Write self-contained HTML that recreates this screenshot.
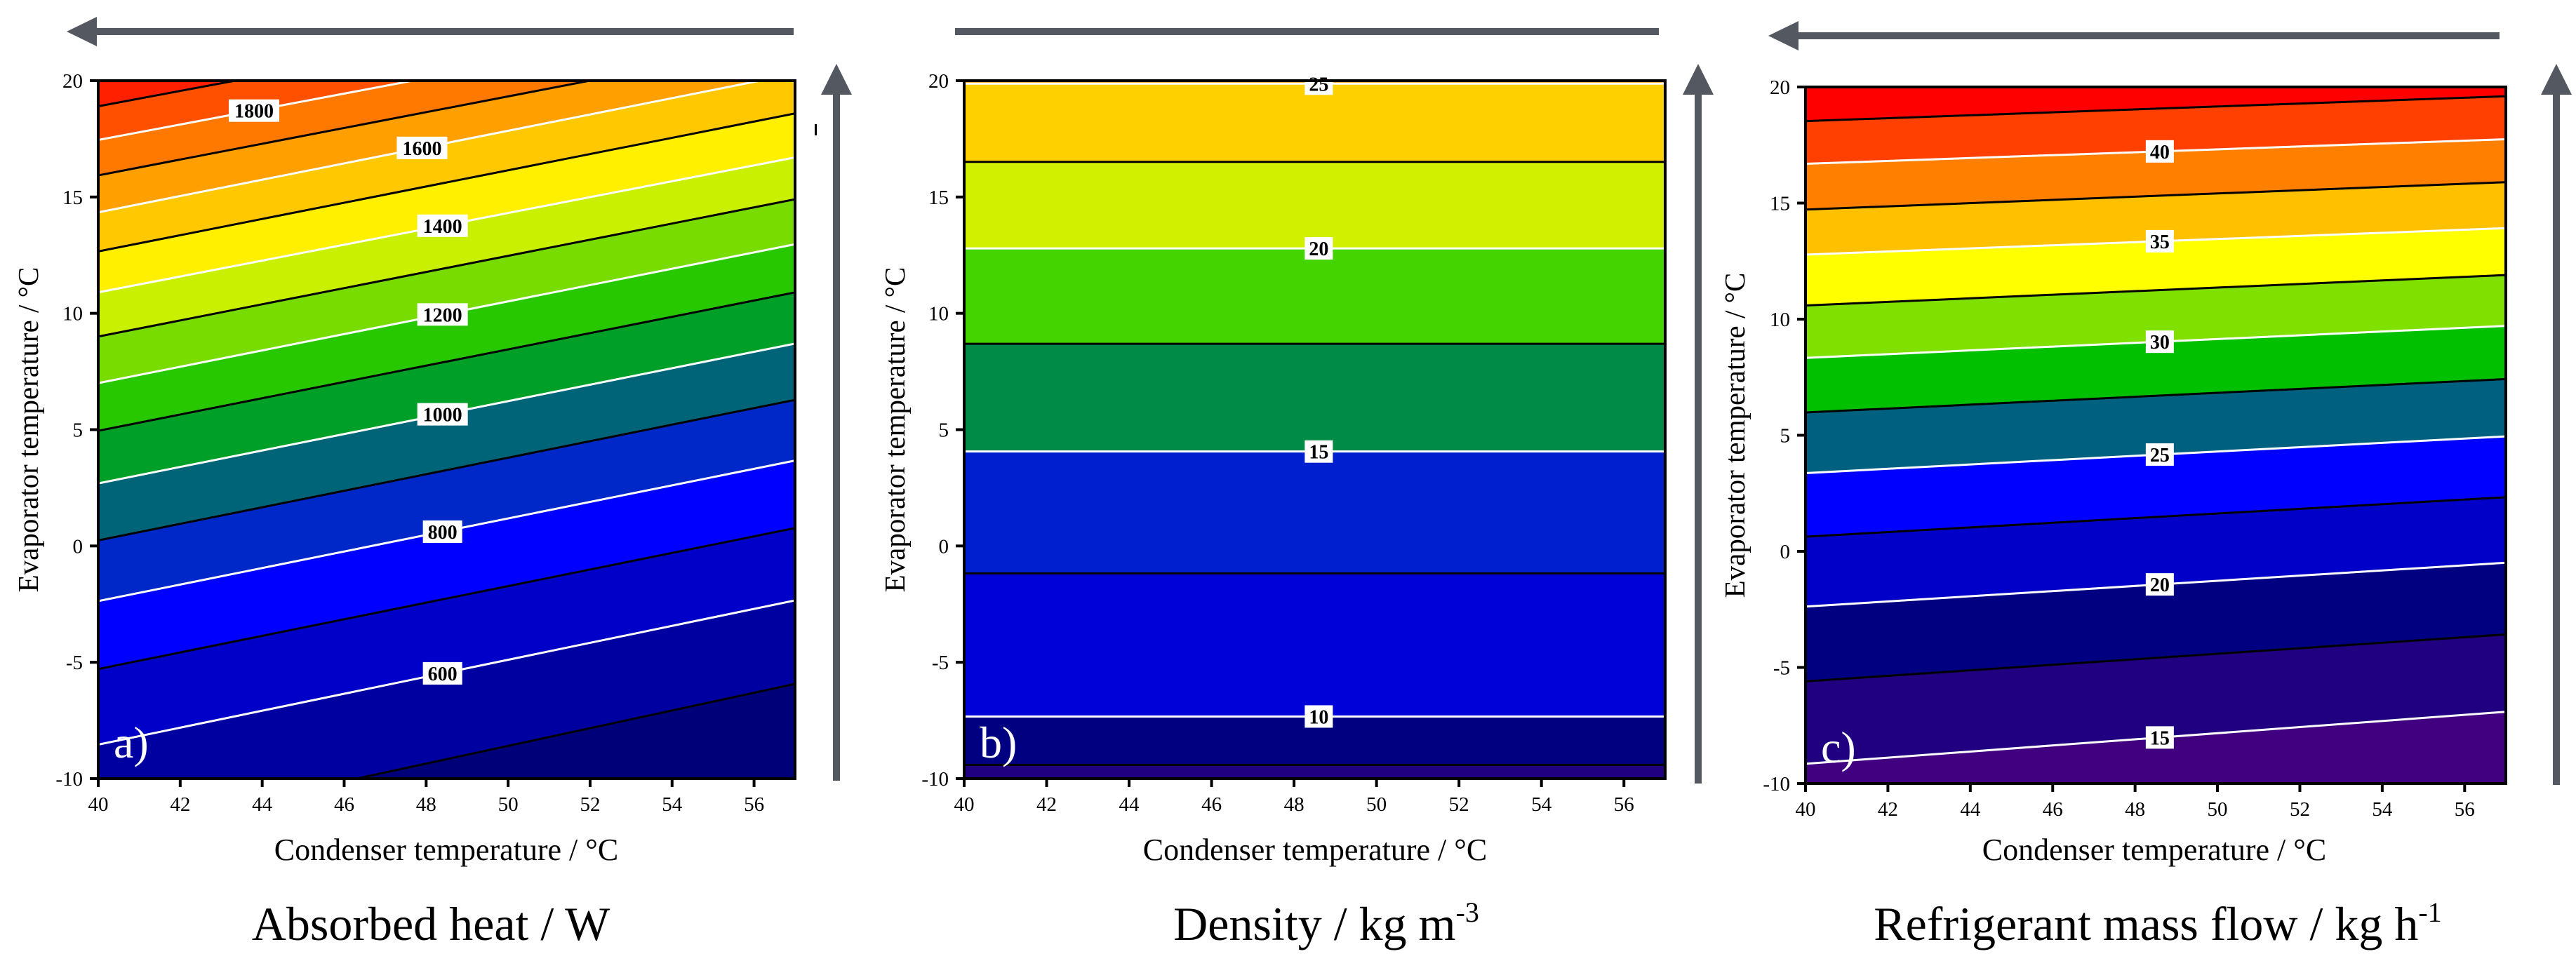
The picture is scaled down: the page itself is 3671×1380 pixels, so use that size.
<!DOCTYPE html>
<html><head><meta charset="utf-8">
<style>
html,body{margin:0;padding:0;background:#fff;overflow:hidden;}
svg{display:block;}
text{font-family:"Liberation Serif",serif;}
</style></head>
<body>
<svg id="fig" width="3671" height="1380" viewBox="0 0 3671 1380" xmlns="http://www.w3.org/2000/svg"></svg>
<script>
// ----- data -----
const xTicks = [40,42,44,46,48,50,52,54,56];
const yTicks = [20,15,10,5,0,-5,-10];

const aLevels = [1900,1800,1700,1600,1500,1400,1300,1200,1100,1000,900,800,700,600,500];
const aEvapAt40 = [18.9,17.45,15.93,14.34,12.66,10.9,9.0,7.0,4.95,2.69,0.24,-2.37,-5.29,-8.54,-12.4];
const aEvapAt57 = [24.5,23.1,21.7,20.3,18.59,16.7,14.9,12.97,10.9,8.7,6.28,3.67,0.77,-2.34,-5.93];
const aColors = ['#ff2000','#ff5000','#ff7800','#ffa000','#ffc800','#fff000','#c8f000','#78dc00','#28c800','#00a028','#006478','#0028c8','#0000ff','#0000c8','#0000a0','#000078'];
const aLabels = [1800,1600,1400,1200,1000,800,600];
const aLabelX = [43.8,47.9,48.4,48.4,48.4,48.4,48.4];

const bLevels = [25,22.5,20,17.5,15,12.5,10,7.5];
const bEvapAt40 = [19.87,16.51,12.79,8.69,4.06,-1.18,-7.33,-9.41];
const bEvapAt57 = [19.87,16.51,12.79,8.69,4.06,-1.18,-7.33,-9.41];
const bColors = ['#ff8c00','#ffd000','#d0f000','#44d400','#008c46','#0020d0','#0000d8','#000080','#200080'];
const bLabels = [25,20,15,10];
const bLabelX = [48.6,48.6,48.6,48.6];

const cLevels = [42.5,40,37.5,35,32.5,30,27.5,25,22.5,20,17.5,15];
const cEvapAt40 = [18.53,16.69,14.72,12.78,10.59,8.33,5.98,3.37,0.63,-2.38,-5.6,-9.15];
const cEvapAt57 = [19.6,17.75,15.9,13.92,11.9,9.71,7.42,4.95,2.33,-0.49,-3.58,-6.91];
const cColors = ['#ff0000','#ff4000','#ff8000','#ffc000','#ffff00','#80e000','#00c000','#006080','#0000ff','#0000c8','#000080','#200080','#400080'];
const cLabels = [40,35,30,25,20,15];
const cLabelX = [48.6,48.6,48.6,48.6,48.6,48.6];

// ----- drawing -----
const NS='http://www.w3.org/2000/svg';
const svg=document.getElementById('fig');
function mk(tag,attrs,parent){const e=document.createElementNS(NS,tag);for(const k in attrs)e.setAttribute(k,attrs[k]);(parent||svg).appendChild(e);return e;}

const panels=[
 {id:'a',L:140,R:1133,T:115,B:1110,levels:aLevels,e40:aEvapAt40,e57:aEvapAt57,colors:aColors,labels:aLabels,labelX:aLabelX,whiteFirst:false,
  yTitleX:40,title:'Absorbed heat / W',titleX:614,xTitleX:636},
 {id:'b',L:1374,R:2373,T:115,B:1110,levels:bLevels,e40:bEvapAt40,e57:bEvapAt57,colors:bColors,labels:bLabels,labelX:bLabelX,whiteFirst:true,
  yTitleX:1275,title:'Density / kg m',sup:'-3',titleX:1890,xTitleX:1874},
 {id:'c',L:2573,R:3571,T:124,B:1117,levels:cLevels,e40:cEvapAt40,e57:cEvapAt57,colors:cColors,labels:cLabels,labelX:cLabelX,whiteFirst:false,
  yTitleX:2472,title:'Refrigerant mass flow / kg h',sup:'-1',titleX:3075,xTitleX:3070}
];

panels.forEach(p=>{
  const g=mk('g',{});
  
  
  const sx=v=>p.L+(v-40)/17*(p.R-p.L);
  const sy=v=>p.B-(v+10)/30*(p.B-p.T);
  const clip=mk('clipPath',{id:'clip-'+p.id},g);
  mk('rect',{x:p.L,y:p.T,width:p.R-p.L,height:p.B-p.T},clip);
  const cg=mk('g',{'clip-path':'url(#clip-'+p.id+')'},g);
  const x0=sx(40),x1=sx(57);
  for(let i=0;i<=p.levels.length;i++){
    const yTopL=i===0?p.T-500:sy(p.e40[i-1]), yTopR=i===0?p.T-500:sy(p.e57[i-1]);
    const yBotL=i===p.levels.length?p.B+500:sy(p.e40[i]), yBotR=i===p.levels.length?p.B+500:sy(p.e57[i]);
    const band=mk('polygon',{points:`${x0},${yTopL} ${x1},${yTopR} ${x1},${yBotR} ${x0},${yBotL}`,fill:p.colors[i],stroke:p.colors[i],'stroke-width':1},cg);
    
    
  }
  p.levels.forEach((lv,i)=>{
    const white=(i%2===0)===p.whiteFirst;
    const ln=mk('line',{x1:x0,y1:sy(p.e40[i]),x2:x1,y2:sy(p.e57[i]),stroke:white?'#fff':'#000','stroke-width':3},cg);
    
    
  });
  p.labels.forEach((lv,k)=>{
    const i=p.levels.indexOf(lv);
    const xv=p.labelX[k];
    const ev=p.e40[i]+(p.e57[i]-p.e40[i])*(xv-40)/17;
    const cx=sx(xv), cy=sy(ev);
    const w=String(lv).length*16+8;
    const r=mk('rect',{x:cx-w/2,y:cy-16,width:w,height:32,fill:'#fff'},g);
    
    
    const t=mk('text',{x:cx,y:cy+10,'text-anchor':'middle','font-size':28,'font-weight':'bold',fill:'#000'},g);
    t.textContent=lv;
    
    
  });
  const fr=mk('rect',{x:p.L,y:p.T,width:p.R-p.L,height:p.B-p.T,fill:'none',stroke:'#000','stroke-width':4},g);
  
  
  xTicks.forEach(v=>{
    mk('line',{x1:sx(v),y1:p.B,x2:sx(v),y2:p.B+12,stroke:'#000','stroke-width':4},g);
    const t=mk('text',{x:sx(v),y:p.B+46,'text-anchor':'middle','font-size':29,fill:'#000'},g);
    t.textContent=v;
    
    
  });
  yTicks.forEach(v=>{
    mk('line',{x1:p.L-12,y1:sy(v),x2:p.L,y2:sy(v),stroke:'#000','stroke-width':4},g);
    const t=mk('text',{x:p.L-22,y:sy(v)+10,'text-anchor':'end','font-size':29,fill:'#000'},g);
    t.textContent=v;
    
    
  });
  const pl=mk('text',{x:p.L+22,y:p.B-30,'font-size':64,fill:'#fff'},g);
  pl.textContent=p.id+')';
  
  
  const xt=mk('text',{x:p.xTitleX,y:1226,'text-anchor':'middle','font-size':44,fill:'#000'},g);
  xt.textContent='Condenser temperature / °C';
  
  
  const ym=(p.T+p.B)/2;
  const yt=mk('text',{x:p.yTitleX,y:ym,'text-anchor':'middle','font-size':41,fill:'#000',transform:`rotate(-90 ${p.yTitleX} ${ym}) translate(0 14)`},g);
  yt.textContent='Evaporator temperature / °C';
  
  
  const tt=mk('text',{x:p.titleX,y:1340,'text-anchor':'middle','font-size':68,fill:'#000'},g);
  tt.textContent=p.title;
  if(p.sup){const s=mk('tspan',{'font-size':40,dy:-26},tt);s.textContent=p.sup;}
  
  
});

function hArrow(x1,x2,y,head,name){
  const g=mk('g',{fill:'#545860'});
  
  
  const start=head?x1+43:x1;
  mk('rect',{x:start,y:y-5,width:x2-start,height:10},g);
  if(head) mk('polygon',{points:`${x1},${y} ${x1+43},${y-21} ${x1+43},${y+21}`},g);
}
function vArrow(x,yTip,yBot,name){
  const g=mk('g',{fill:'#545860'});
  
  
  mk('rect',{x:x-5,y:yTip+43,width:10,height:yBot-yTip-43},g);
  mk('polygon',{points:`${x},${yTip} ${x-22},${yTip+44} ${x+22},${yTip+44}`},g);
}
hArrow(95,1131,45,true,'arrow-top-a');
hArrow(1361,2364,45,false,'arrow-top-b');
hArrow(2520,3562,51,true,'arrow-top-c');
vArrow(1192,91,1113,'arrow-right-a');
vArrow(2420,91,1117,'arrow-right-b');
vArrow(3643,91,1119,'arrow-right-c');
mk('rect',{x:1161,y:177,width:3,height:16,fill:'#000'});
</script>
</body></html>
